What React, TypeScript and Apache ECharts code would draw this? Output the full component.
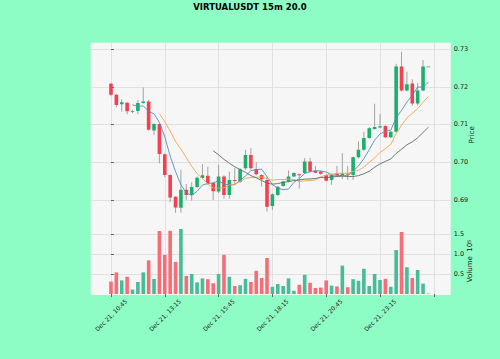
import React, { useEffect, useRef } from "react";
import * as echarts from "echarts";

const title = "VIRTUALUSDT 15m 20.0";
const xTickPos = [0, 10, 20, 30, 40, 50, 60];
const xTickLabels = ["Dec 21, 10:45", "Dec 21, 13:15", "Dec 21, 15:45", "Dec 21, 18:15", "Dec 21, 20:45", "Dec 21, 23:15", ""];
const priceTicks = [0.69, 0.7, 0.71, 0.72, 0.73];
const volTicks = [50000, 100000, 150000];

const opens = [0.7208, 0.7179, 0.7154, 0.7158, 0.7134, 0.7136, 0.7157, 0.7161, 0.7084, 0.7101,
  0.7021, 0.6966, 0.6908, 0.6879, 0.6927, 0.6913, 0.6934, 0.6958, 0.6964, 0.6945,
  0.6922, 0.6962, 0.6913, 0.6953, 0.6948, 0.6984, 0.7019, 0.6982, 0.6966, 0.6953,
  0.6884, 0.6913, 0.6937, 0.6949, 0.6962, 0.6968, 0.6971, 0.7002, 0.6977, 0.6975,
  0.6966, 0.6953, 0.6970, 0.6966, 0.6970, 0.6966, 0.7013, 0.7033, 0.7064, 0.7088,
  0.7092, 0.7096, 0.7066, 0.7081, 0.7254, 0.7190, 0.7209, 0.7156, 0.7190, 0.7254];
const closes = [0.7179, 0.7152, 0.7159, 0.7135, 0.7136, 0.7157, 0.7161, 0.7086, 0.7101, 0.7022,
  0.6966, 0.6906, 0.6880, 0.6927, 0.6913, 0.6934, 0.6959, 0.6965, 0.6945, 0.6923,
  0.6962, 0.6913, 0.6953, 0.6950, 0.6981, 0.7019, 0.6984, 0.6968, 0.6955, 0.6882,
  0.6915, 0.6935, 0.6949, 0.6962, 0.6971, 0.6966, 0.7002, 0.6975, 0.6972, 0.6969,
  0.6951, 0.6966, 0.6966, 0.6970, 0.6967, 0.7013, 0.7033, 0.7064, 0.7090, 0.7093,
  0.7095, 0.7066, 0.7081, 0.7254, 0.7190, 0.7207, 0.7156, 0.7190, 0.7254, 0.7254];
const lows = [0.7175, 0.7146, 0.7134, 0.7127, 0.7130, 0.7127, 0.7155, 0.7084, 0.7072, 0.6997,
  0.6960, 0.6894, 0.6866, 0.6866, 0.6900, 0.6898, 0.6932, 0.6955, 0.6940, 0.6900,
  0.6918, 0.6903, 0.6903, 0.6940, 0.6945, 0.6980, 0.6980, 0.6965, 0.6935, 0.6869,
  0.6873, 0.6910, 0.6935, 0.6946, 0.6960, 0.6930, 0.6969, 0.6972, 0.6970, 0.6966,
  0.6949, 0.6940, 0.6964, 0.6955, 0.6953, 0.6953, 0.7010, 0.7030, 0.7062, 0.7086,
  0.7090, 0.7064, 0.7064, 0.7079, 0.7188, 0.7188, 0.7150, 0.7150, 0.7188, 0.7254];
const highs = [0.7210, 0.7181, 0.7167, 0.7160, 0.7139, 0.7165, 0.7198, 0.7165, 0.7103, 0.7103,
  0.7023, 0.6968, 0.6910, 0.6980, 0.6942, 0.6947, 0.6962, 0.6995, 0.6988, 0.6947,
  0.6993, 0.6965, 0.6975, 0.6985, 0.6984, 0.7033, 0.7037, 0.7000, 0.6968, 0.6962,
  0.6917, 0.6937, 0.6951, 0.6978, 0.6973, 0.6970, 0.7011, 0.7011, 0.6990, 0.6977,
  0.6968, 0.6968, 0.6990, 0.7024, 0.6990, 0.7015, 0.7055, 0.7081, 0.7093, 0.7155,
  0.7128, 0.7098, 0.7083, 0.7261, 0.7293, 0.7240, 0.7220, 0.7210, 0.7271, 0.7254];
const volumes = [31000, 54000, 34000, 43000, 11000, 30000, 54000, 84000, 37500, 157500,
  98000, 158000, 80000, 162500, 45000, 50000, 29000, 39000, 37000, 27000,
  50000, 98000, 43000, 20000, 22000, 38000, 30000, 58000, 40000, 90000,
  18000, 25000, 20000, 39000, 8000, 23000, 48000, 28000, 15000, 16000,
  34000, 21000, 19000, 71000, 17000, 37000, 33000, 63000, 20000, 50000,
  35000, 38000, 18000, 110000, 155000, 67000, 40000, 60000, 26000, 1000];
const maPeriods = [5, 10, 20];
const maColors = ["#4f8fbd", "#f5a34d", "#5c6b68"];

const UP = "#1bae6c";
const DOWN = "#f2404e";
const VOL_UP = "#45bd96";
const VOL_DOWN = "#f56d76";
const WICK = "#8e8e8e";
const BG = "#8dfdc5";
const PLOT_BG = "#f6f6f6";
const GRID = "#dcdcdc";
const FONT = "DejaVu Sans";

function movingAverage(period: number) {
  const out: number[][] = [];
  for (let i = period - 1; i < closes.length; i++) {
    let s = 0;
    for (let k = i - period + 1; k <= i; k++) s += closes[k];
    out.push([i, s / period]);
  }
  return out;
}

export default function App() {
  const ref = useRef<HTMLDivElement>(null);
  useEffect(() => {
    if (!ref.current) return;
    const chart = echarts.init(ref.current, null, { renderer: "svg" });
    const candleData = opens.map((o, i) => [i, o, closes[i], lows[i], highs[i]]);
    const volData = volumes.map((v, i) => ({
      value: [i, v],
      itemStyle: { color: closes[i] >= opens[i] ? VOL_UP : VOL_DOWN },
    }));
    const xMin = -3.77;
    const xMax = 63.14;
    const axisText = { fontFamily: FONT, fontSize: 6.5, color: "#222" };
    const baseX = (gi: number, showLabels: boolean) => ({
      type: "value",
      gridIndex: gi,
      min: xMin,
      max: xMax,
      axisLine: { show: false },
      axisTick: { show: showLabels, customValues: xTickPos, length: 3, lineStyle: { color: "#444", width: 0.8 } },
      axisLabel: {
        show: showLabels,
        customValues: xTickPos,
        rotate: 45,
        align: "center",
        verticalAlign: "middle",
        margin: 20,
        fontFamily: FONT,
        fontSize: 6,
        color: "#222",
        formatter: (v: number) => {
          const idx = xTickPos.indexOf(Math.round(v));
          return idx >= 0 ? xTickLabels[idx] : "";
        },
      },
      splitLine: { show: true, lineStyle: { color: GRID, width: 0.8 } },
    });
    chart.setOption({
      animation: false,
      backgroundColor: BG,
      textStyle: { fontFamily: FONT },
      title: {
        text: title,
        left: "center",
        top: 2,
        padding: 0,
        textStyle: { fontFamily: FONT, fontWeight: "bold", fontSize: 8.5, color: "#000" },
      },
      grid: [
        { left: 90.7, top: 42.7, width: 360, height: 184.3, show: true, backgroundColor: PLOT_BG, borderWidth: 0 },
        { left: 90.7, top: 227, width: 360, height: 68, show: true, backgroundColor: PLOT_BG, borderWidth: 0 },
      ],
      xAxis: [baseX(0, false), baseX(1, true)],
      yAxis: [
        {
          type: "value",
          gridIndex: 0,
          position: "right",
          min: 0.6828,
          max: 0.7317,
          name: "Price",
          nameLocation: "middle",
          nameRotate: 90,
          nameGap: 18,
          nameMoveOverlap: false,
          nameTextStyle: { fontFamily: FONT, fontSize: 7, color: "#222" },
          axisLine: { show: false },
          axisTick: { show: true, customValues: priceTicks, length: 3, lineStyle: { color: "#444", width: 0.8 } },
          axisLabel: { customValues: priceTicks, margin: 3, ...axisText, formatter: (v: number) => v.toFixed(2) },
          splitLine: { show: true, lineStyle: { color: GRID, width: 0.8 } },
        },
        {
          type: "value",
          gridIndex: 1,
          position: "right",
          min: -2500,
          max: 167500,
          name: "{a|Volume  10}{b|5}",
          nameLocation: "middle",
          nameRotate: 90,
          nameGap: 16,
          nameMoveOverlap: false,
          nameTextStyle: {
            fontFamily: FONT,
            color: "#222",
            rich: {
              a: { fontFamily: FONT, fontSize: 7, color: "#222" },
              b: { fontFamily: FONT, fontSize: 5, color: "#222", verticalAlign: "top" },
            },
          },
          axisLine: { show: false },
          axisTick: { show: true, customValues: volTicks, length: 3, lineStyle: { color: "#444", width: 0.8 } },
          axisLabel: { customValues: volTicks, margin: 3, ...axisText, formatter: (v: number) => (v / 100000).toFixed(1) },
          splitLine: { show: true, lineStyle: { color: GRID, width: 0.8 } },
        },
      ],
      series: [
        {
          type: "custom",
          xAxisIndex: 0,
          yAxisIndex: 0,
          data: candleData,
          encode: { x: 0, y: [1, 2, 3, 4] },
          clip: true,
          renderItem: (_p: any, api: any) => {
            const x = api.value(0);
            const o = api.value(1);
            const c = api.value(2);
            const l = api.value(3);
            const h = api.value(4);
            const pO = api.coord([x, o]);
            const pC = api.coord([x, c]);
            const pL = api.coord([x, l]);
            const pH = api.coord([x, h]);
            const up = c >= o;
            const w = 3.6;
            const top = Math.min(pO[1], pC[1]);
            const hgt = Math.max(Math.abs(pO[1] - pC[1]), 0.9);
            return {
              type: "group",
              children: [
                { type: "line", shape: { x1: pH[0], y1: pH[1], x2: pL[0], y2: pL[1] }, style: { stroke: WICK, lineWidth: 0.8 } },
                { type: "rect", shape: { x: pO[0] - w / 2, y: top, width: w, height: hgt }, style: { fill: up ? UP : DOWN } },
              ],
            };
          },
        },
        ...maPeriods.map((p, k) => ({
          type: "line",
          xAxisIndex: 0,
          yAxisIndex: 0,
          data: movingAverage(p),
          symbol: "none",
          lineStyle: { color: maColors[k], width: 0.9 },
          z: 3,
        })),
        {
          type: "bar",
          xAxisIndex: 1,
          yAxisIndex: 1,
          data: volData,
          barWidth: 3.6,
        },
      ],
    });
    return () => chart.dispose();
  }, []);
  return <div ref={ref} style={{ position: "fixed", left: 0, top: 0, width: 500, height: 359 }} />;
}
